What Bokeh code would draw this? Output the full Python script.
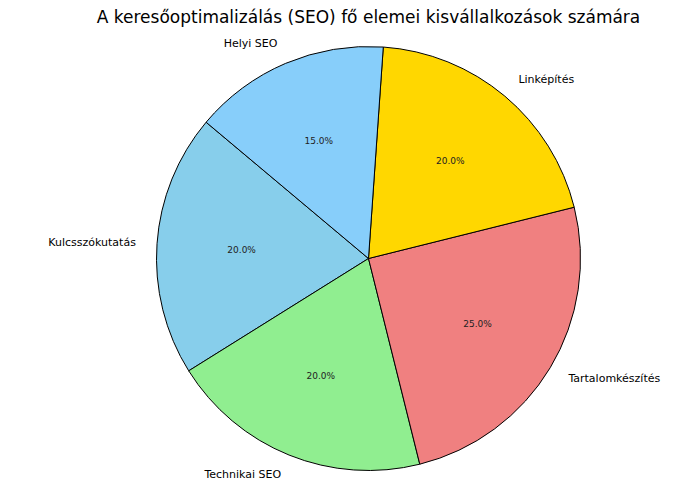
import numpy as np
from bokeh.plotting import figure
from bokeh.models import ColumnDataSource
from bokeh.core.properties import value
from bokeh.embed import file_html
from bokeh.resources import INLINE

categories = ["Kulcsszókutatás", "Technikai SEO", "Tartalomkészítés", "Linképítés", "Helyi SEO"]
shares = [20, 20, 25, 20, 15]
colors = ["#87CEEB", "#90EE90", "#F08080", "#FFD700", "#87CEFA"]
title_text = "A keresőoptimalizálás (SEO) fő elemei kisvállalkozások számára"

START_DEG = 140.0
W, H = 700, 500
CX, CY, R = 368.0, 258.0, 212.0

vals = np.array(shares, dtype=float)
frac = vals / vals.sum()
cum = np.concatenate([[0], np.cumsum(frac)])
start = np.deg2rad(START_DEG + 360 * cum[:-1])
end = np.deg2rad(START_DEG + 360 * cum[1:])
mid = (start + end) / 2

lx = 1.1 * np.cos(mid)
ly = 1.1 * np.sin(mid)
align = ["left" if x > 0 else "right" for x in lx]
px = 0.6 * np.cos(mid)
py = 0.6 * np.sin(mid)
pct = [f"{f*100:.1f}%" for f in frac]

src = ColumnDataSource(dict(start=start, end=end, color=colors, lx=lx, ly=ly,
                            align=align, px=px, py=py, pct=pct, cat=categories))

p = figure(width=W, height=H, output_backend="svg", toolbar_location=None,
           x_range=(-CX / R, (W - CX) / R), y_range=(-(H - CY) / R, CY / R),
           min_border=0)
p.axis.visible = False
p.grid.visible = False
p.outline_line_color = None
p.background_fill_color = "white"
p.border_fill_color = "white"

p.wedge(x=0, y=0, radius=1.0, start_angle="start", end_angle="end",
        fill_color="color", line_color="black", line_width=1, source=src)

p.text(x="lx", y="ly", text="cat", text_align="align", text_baseline="middle",
       text_font=value("DejaVu Sans"), text_font_size="11px", text_color="black", source=src)
p.text(x="px", y="py", text="pct", text_align="center", text_baseline="middle",
       text_font=value("DejaVu Sans"), text_font_size="9px", text_color="#222222", source=src)

p.text(x=[0], y=[(CY - 16) / R], text=[title_text], text_align="center", text_baseline="middle",
       text_font=value("DejaVu Sans"), text_font_size="17px", text_color="black")

open("out.html", "w").write(file_html(p, INLINE))
